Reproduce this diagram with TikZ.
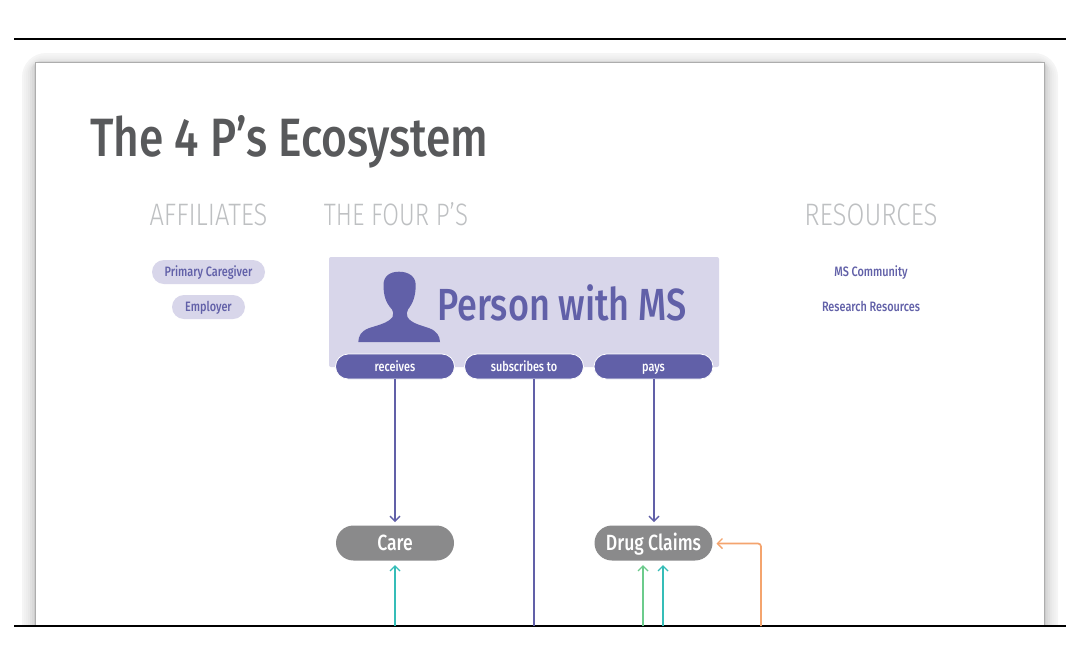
\documentclass[tikz,border=0pt]{standalone}
\usepackage{fontspec}
\usetikzlibrary{arrows.meta}
\setmainfont{Fira Sans Medium}[FakeStretch=0.8]
\newfontfamily\lightface{Fira Sans Light}[FakeStretch=0.78]
\newfontfamily\titleface{Fira Sans Medium}[FakeStretch=0.82]
\definecolor{msp}{HTML}{6160A8}
\definecolor{msl}{HTML}{D8D6EA}
\definecolor{msg}{HTML}{8A8A8B}
\definecolor{mst}{HTML}{58595B}
\definecolor{msh}{HTML}{BEC0C2}
\definecolor{mso}{HTML}{F4A46E}
\definecolor{msc}{HTML}{35BDB8}
\definecolor{msn}{HTML}{6CCB8C}
% pill: fills a true stadium behind a named node
\newcommand{\pillnode}[8]{% name, cx, cy, width, height, path style, node style, text
  \pgfmathsetmacro{\pr}{#5/2}
  \pgfmathsetmacro{\pl}{#2-#4/2+\pr}
  \pgfmathsetmacro{\pq}{#2+#4/2-\pr}
  \pgfmathsetmacro{\pt}{#3-#5/2}
  \pgfmathsetmacro{\pb}{#3+#5/2}
  \path[#6] (\pl,\pt) -- (\pq,\pt) arc[start angle=-90,end angle=90,radius=\pr] -- (\pl,\pb) arc[start angle=90,end angle=270,radius=\pr] -- cycle;
  \node[#7,minimum width=#4 pt,minimum height=#5 pt] (#1) at (#2,#3) {#8};
}
\tikzset{
  conn/.style={line width=1.7pt,-{Straight Barb[length=5pt,width=10pt,line width=1.4pt]}},
  headtext/.style={text=msh,font=\lightface\fontsize{31}{31}\selectfont,inner sep=0pt},
  smalltext/.style={inner sep=0pt,text height=10.5pt,text depth=1.5pt,font=\fontsize{13.6}{13.6}\selectfont},
  afpath/.style={fill=msl},
  afpill/.style={smalltext,text=msp},
  restext/.style={smalltext,text=msp},
  verbpath/.style={fill=msp,draw=white,line width=0.8pt},
  verbpill/.style={smalltext,text=white},
  targetpath/.style={fill=msg},
  targetpill/.style={text=white,inner sep=0pt,text height=17.5pt,text depth=2.5pt,font=\fontsize{22}{22}\selectfont},
}
\begin{document}
\begin{tikzpicture}[x=1pt,y=-1pt]
\useasboundingbox (0,0) rectangle (1080,665);
\begin{scope}
\clip (0,0) rectangle (1080,626);
\foreach \i/\g/\ty in {0/96/53,1/94.5/55.5,2/93/57.5,3/91/59,4/88/60.5,5/85/61.2,6/80/61.8} {
  \pgfmathsetmacro{\dx}{22+2*\i}
  \pgfmathsetmacro{\rr}{24-3*\i}
  \pgfmathsetmacro{\sh}{100-\g}
  \fill[black!\sh!white,rounded corners=\rr pt] (\dx,\ty) rectangle (1080-\dx,700);
}
\fill[white,draw=black!32,line width=0.9pt] (35.8,62.5) rectangle (1044.5,700);
\end{scope}
\draw[black,line width=2pt] (14,39) -- (1066,39);
\draw[black,line width=2pt] (14,626) -- (1066,626);
\node[anchor=base west,text=mst,inner sep=0pt,font=\titleface\fontsize{54}{54}\selectfont] (title) at (90,156) {The 4 P’s Ecosystem};
\node[headtext,anchor=base] (haff) at (208.5,225) {\scalebox{1.055}[1]{AFFILIATES}};
\node[headtext,anchor=base] (hfour) at (396,225) {THE FOUR P’S};
\node[headtext,anchor=base] (hres) at (871,225) {\scalebox{1.07}[1]{RESOURCES}};
\pillnode{pc}{208.5}{272}{113}{24}{afpath}{afpill}{Primary Caregiver}
\pillnode{emp}{208.5}{307}{73}{24}{afpath}{afpill}{Employer}
\node[restext] (msc1) at (871,272) {MS Community};
\node[restext] (rr) at (871,307) {Research Resources};
\node[fill=msl,rounded corners=2pt,minimum width=390pt,minimum height=110pt,inner sep=0pt] (panel) at (524,312) {};
\fill[msp] (358.3,342) .. controls (358.5,336) and (361,331.5) .. (368,328.5)
  .. controls (376,325.5) and (388,323.5) .. (392.5,317)
  .. controls (393.5,314) and (393.5,312) .. (392,309.5)
  .. controls (386,303) and (383.5,296) .. (383.5,285)
  .. controls (383.5,276) and (390,271.7) .. (399,271.7)
  .. controls (408,271.7) and (415.7,276) .. (415.7,285)
  .. controls (415.7,296) and (413,303) .. (408,309.5)
  .. controls (406.5,312) and (406.5,314) .. (407.5,317)
  .. controls (411,323.5) and (422,325.5) .. (430,328.5)
  .. controls (437,331.5) and (439.8,336) .. (440,342) -- cycle;
\node[anchor=base west,text=msp,inner sep=0pt,font=\fontsize{45}{45}\selectfont] (pwm) at (437,320) {Person with MS};
\pillnode{rec}{395}{366.5}{119}{25}{verbpath}{verbpill}{receives}
\pillnode{sub}{524}{366.5}{119}{25}{verbpath}{verbpill}{subscribes to}
\pillnode{pay}{653.5}{366.5}{119}{25}{verbpath}{verbpill}{pays}
\pillnode{care}{395}{543}{118}{35}{targetpath}{targetpill}{Care}
\pillnode{drug}{653.5}{543}{118}{35}{targetpath}{targetpill}{Drug Claims}
\coordinate (subtop) at (534,379);
\coordinate (subbot) at (534,626);
\coordinate (paytop) at (654,379);
\coordinate (drugtop) at (654,522);
\coordinate (carebot) at (395,626);
\coordinate (caretip) at (395,565);
\coordinate (grnbot) at (643,626);
\coordinate (grntip) at (643,565);
\coordinate (tealbot) at (663,626);
\coordinate (tealtip) at (663,565);
\coordinate (orgbot) at (761,626);
\coordinate (orgtip) at (716.5,543.5);
\draw[conn,draw=msp] (rec.south) -- (care.north |- 0,522);
\draw[msp,line width=1.7pt] (subtop) -- (subbot);
\draw[conn,draw=msp] (paytop) -- (drugtop);
\draw[conn,draw=msc] (carebot) -- (caretip);
\draw[conn,draw=msn] (grnbot) -- (grntip);
\draw[conn,draw=msc] (tealbot) -- (tealtip);
\draw[conn,draw=mso,rounded corners=3pt] (orgbot) |- (orgtip);
\end{tikzpicture}
\end{document}
